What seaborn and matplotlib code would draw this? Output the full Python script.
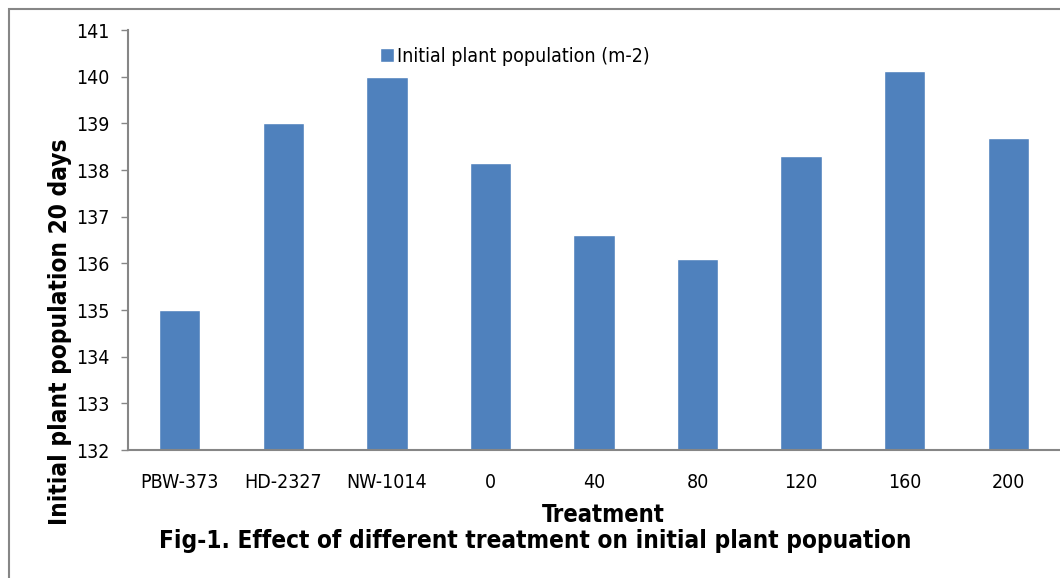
import pandas as pd
import matplotlib
matplotlib.use('Agg')
import matplotlib.pyplot as plt
import seaborn as sns

# Data
treatments = ['PBW-373', 'HD-2327', 'NW-1014', '0', '40', '80', '120', '160', '200']
population = [135.0, 139.0, 140.0, 138.14, 136.6, 136.09, 138.31, 140.13, 138.68]
y_ticks = list(range(132, 142))

df = pd.DataFrame({'Treatment': treatments, 'Population': population})

sns.set_style('white')
plt.rcParams['font.family'] = ['DejaVu Sans']
plt.rcParams['font.stretch'] = 'condensed'
plt.rcParams['text.color'] = 'black'
plt.rcParams['xtick.color'] = 'black'
plt.rcParams['ytick.color'] = 'black'

fig = plt.figure(figsize=(10.6, 5.78), dpi=100)
ax = fig.add_axes([128 / 1060, 1 - 450 / 578, 1 - 128 / 1060, 420 / 578])

sns.barplot(data=df, x='Treatment', y='Population', color='#4F81BD',
            width=0.4, saturation=1, label='Initial plant population (m-2)', ax=ax)

ax.set_ylim(132, 141)
ax.set_yticks(y_ticks)
ax.set_xlim(-0.5, len(treatments) - 0.5)
ax.tick_params(axis='y', left=True, length=5, width=1, color='#868686',
               labelsize=14, pad=8)
ax.tick_params(axis='x', bottom=False, labelsize=14, pad=13)
ax.set_xlabel('')
ax.set_ylabel('')
for side in ['top', 'right']:
    ax.spines[side].set_visible(False)
for side in ['left', 'bottom']:
    ax.spines[side].set_color('#868686')
    ax.spines[side].set_linewidth(1.5)

ax.legend(loc='center left', bbox_to_anchor=(380 / 1060, 1 - 56 / 578),
          bbox_transform=fig.transFigure, frameon=False, fontsize=14,
          handlelength=0.7, handleheight=0.7, handletextpad=0.15,
          borderaxespad=0, borderpad=0)

fig.text(60 / 1060, 1 - 332 / 578, 'Initial plant population 20 days',
         rotation=90, ha='center', va='center', fontsize=17.5, fontweight='bold')
fig.text(603 / 1060, 1 - 515 / 578, 'Treatment', ha='center', va='center',
         fontsize=17, fontweight='bold')
fig.text(535 / 1060, 1 - 541 / 578,
         'Fig-1. Effect of different treatment on initial plant popuation',
         ha='center', va='center', fontsize=17.5, fontweight='bold')

# outer chart frame
frame = plt.Rectangle((9 / 1060, -0.1), 1.2, 1 - 9 / 578 + 0.1,
                      transform=fig.transFigure, fill=False,
                      edgecolor='#868686', linewidth=1.5, clip_on=False)
fig.patches.append(frame)

fig.savefig('out.png', dpi=100)
